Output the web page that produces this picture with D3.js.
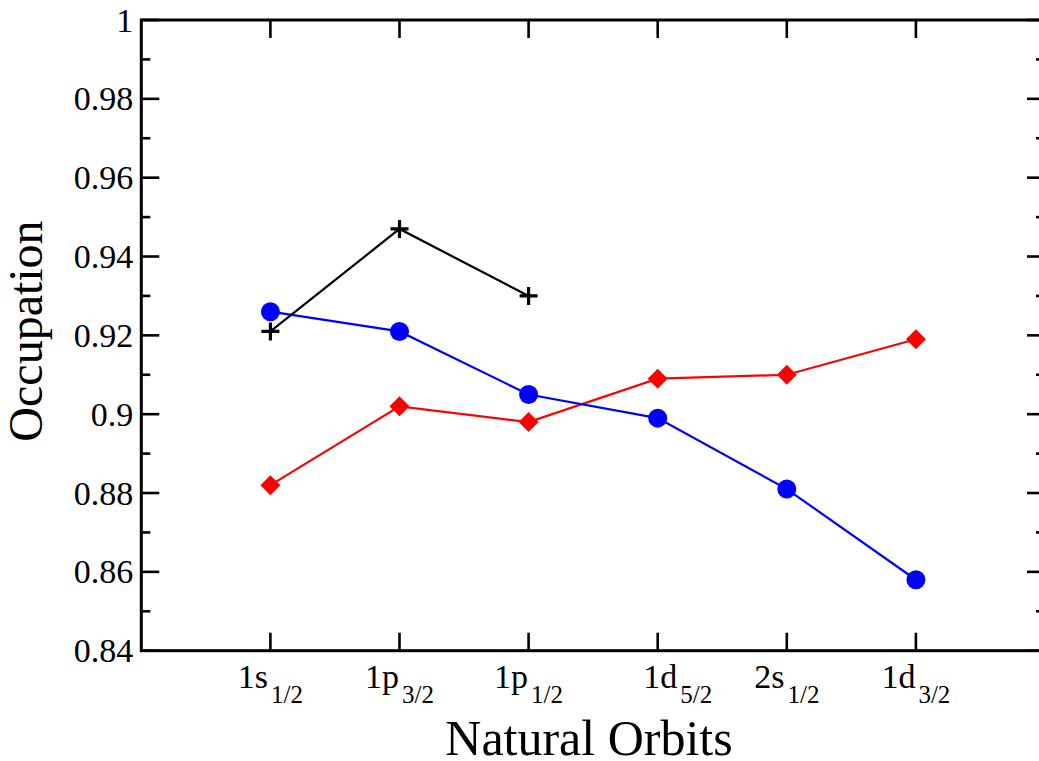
<!DOCTYPE html>
<html>
<head>
<meta charset="utf-8">
<script src="https://cdn.jsdelivr.net/npm/d3@7"></script>
<style>
  html, body { margin: 0; padding: 0; background: #fff; }
  svg { display: block; font-family: "Liberation Serif", "Times New Roman", serif; }
</style>
</head>
<body>
<svg id="chart" width="1039" height="761"></svg>
<script>
// Orbit labels: main part and subscript
const orbitMain = ["1s", "1p", "1p", "1d", "2s", "1d"];
const orbitSub  = ["1/2", "3/2", "1/2", "5/2", "1/2", "3/2"];

// Occupation of each natural orbit
const seriesBlue  = [0.926, 0.921, 0.905, 0.899, 0.881, 0.858];
const seriesRed   = [0.882, 0.902, 0.898, 0.909, 0.910, 0.919];
const seriesBlack = [0.921, 0.947, 0.930];

// Y axis tick labels
const yMajorTicks = [0.84, 0.86, 0.88, 0.90, 0.92, 0.94, 0.96, 0.98, 1.00];
const yTickText   = ["0.84", "0.86", "0.88", "0.9", "0.92", "0.94", "0.96", "0.98", "1"];
const yMinorTicks = [0.85, 0.87, 0.89, 0.91, 0.93, 0.95, 0.97, 0.99];

const svg = d3.select("#chart");
const L = 141.3, R = 1045, T = 20, B = 650.7;

const x = d3.scaleLinear().domain([0, 7]).range([L, R]);
const y = d3.scaleLinear().domain([0.84, 1.0]).range([B, T]);

// Ticks (inward) on all four sides
const majorLen = 18, minorLen = 9, tickW = 2.6;
const g = svg.append("g").attr("stroke", "#000").attr("stroke-width", tickW);

yMajorTicks.forEach(v => {
  g.append("line").attr("x1", L).attr("x2", L + majorLen).attr("y1", y(v)).attr("y2", y(v));
  g.append("line").attr("x1", R).attr("x2", R - majorLen).attr("y1", y(v)).attr("y2", y(v));
});
yMinorTicks.forEach(v => {
  g.append("line").attr("x1", L).attr("x2", L + minorLen).attr("y1", y(v)).attr("y2", y(v));
  g.append("line").attr("x1", R).attr("x2", R - minorLen).attr("y1", y(v)).attr("y2", y(v));
});
orbitMain.forEach((_, i) => {
  const px = x(i + 1);
  g.append("line").attr("x1", px).attr("x2", px).attr("y1", B).attr("y2", B - majorLen);
  g.append("line").attr("x1", px).attr("x2", px).attr("y1", T).attr("y2", T + majorLen);
});

// Frame
svg.append("rect")
  .attr("x", L).attr("y", T).attr("width", R - L).attr("height", B - T)
  .attr("fill", "none").attr("stroke", "#000").attr("stroke-width", 3);

// Y tick labels
svg.append("g").selectAll("text").data(yMajorTicks).join("text")
  .attr("x", L - 8).attr("y", d => y(d)).attr("dy", "0.34em")
  .attr("text-anchor", "end").attr("font-size", 34)
  .text((d, i) => yTickText[i]);

// X tick labels with subscripts
const labelNudge = [0, 0, 0, 20, 0, 0];
const xl = svg.append("g");
orbitMain.forEach((m, i) => {
  const t = xl.append("text")
    .attr("x", x(i + 1) + labelNudge[i]).attr("y", B + 37)
    .attr("text-anchor", "middle").attr("font-size", 34);
  t.append("tspan").text(m);
  t.append("tspan").attr("font-size", 25).attr("dx", 3).attr("dy", 15).text(orbitSub[i]);
});

// Axis titles
svg.append("text")
  .attr("x", 589).attr("y", 755).attr("text-anchor", "middle")
  .attr("font-size", 50).text("Natural Orbits");
svg.append("text")
  .attr("transform", "translate(42,331) rotate(-90)")
  .attr("text-anchor", "middle").attr("font-size", 48).text("Occupation");

// Series
const line = d3.line().x((d, i) => x(i + 1)).y(d => y(d));

// red diamonds
svg.append("path").datum(seriesRed).attr("d", line)
  .attr("fill", "none").attr("stroke", "#ff0000").attr("stroke-width", 2.2);
svg.append("g").selectAll("path").data(seriesRed).join("path")
  .attr("d", d3.symbol(d3.symbolSquare, 200)())
  .attr("transform", (d, i) => `translate(${x(i + 1)},${y(d)}) rotate(45)`)
  .attr("fill", "#ff0000");

// blue circles
svg.append("path").datum(seriesBlue).attr("d", line)
  .attr("fill", "none").attr("stroke", "#0000ff").attr("stroke-width", 2.2);
svg.append("g").selectAll("circle").data(seriesBlue).join("circle")
  .attr("cx", (d, i) => x(i + 1)).attr("cy", d => y(d)).attr("r", 9.5)
  .attr("fill", "#0000ff");

// black plus markers
svg.append("path").datum(seriesBlack).attr("d", line)
  .attr("fill", "none").attr("stroke", "#000").attr("stroke-width", 2.2);
svg.append("g").selectAll("path").data(seriesBlack).join("path")
  .attr("d", "M-9,0H9M0,-9V9")
  .attr("transform", (d, i) => `translate(${x(i + 1)},${y(d)})`)
  .attr("stroke", "#000").attr("stroke-width", 3.2).attr("fill", "none");
</script>
</body>
</html>
